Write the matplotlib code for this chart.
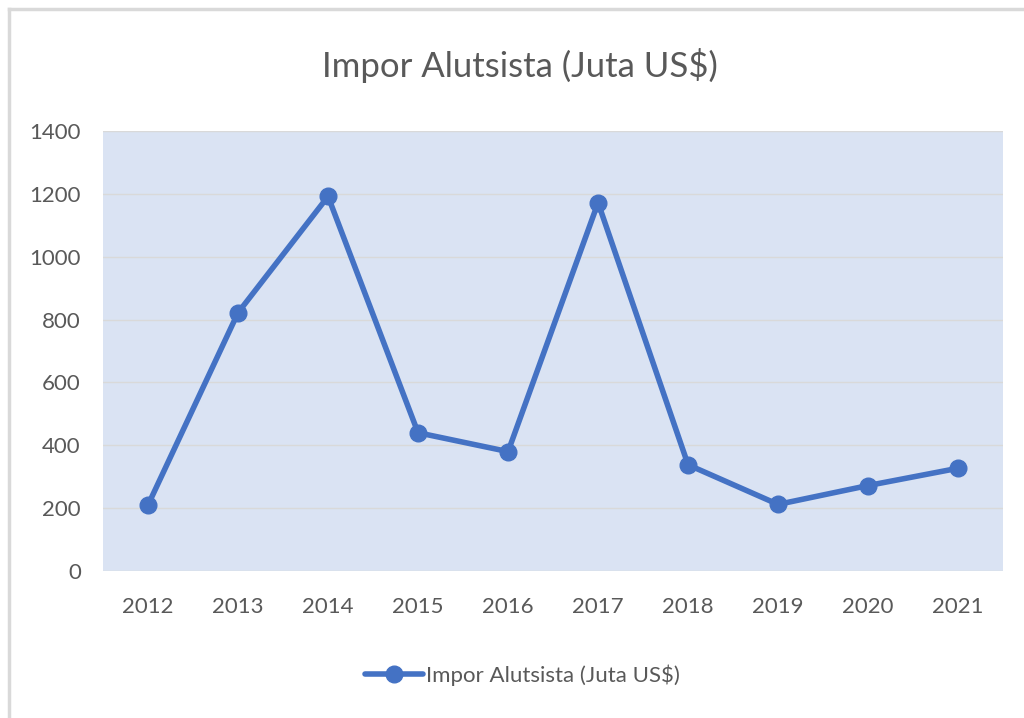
import matplotlib
matplotlib.use("Agg")
import matplotlib.pyplot as plt
from matplotlib.lines import Line2D

# data
years = ["2012", "2013", "2014", "2015", "2016", "2017", "2018", "2019", "2020", "2021"]
impor = [210, 822, 1192, 440, 380, 1172, 338, 212, 272, 327]

LINE_COLOR = "#4472C4"
TEXT_COLOR = "#595959"

plt.rcParams["font.family"] = ["Lato", "DejaVu Sans"]

fig = plt.figure(figsize=(10.24, 7.18), dpi=100)
ax = fig.add_axes([0.1006, 0.2047, 0.879, 0.6128])

x = list(range(len(years)))
ax.plot(x, impor, color=LINE_COLOR, linewidth=4, marker="o", markersize=12,
        label="Impor Alutsista (Juta US$)", solid_capstyle="round")

ax.set_facecolor("#DAE3F3")
ax.set_xlim(-0.5, len(years) - 0.5)
ax.set_ylim(0, 1400)
ax.set_yticks(range(0, 1401, 200))
ax.set_xticks(x)
ax.set_xticklabels(years)
ax.grid(axis="y", color="#D9D9D9", linewidth=1)
ax.set_axisbelow(True)
for s in ax.spines.values():
    s.set_visible(False)
ax.tick_params(length=0, labelsize=16, colors=TEXT_COLOR)
ax.tick_params(axis="x", pad=19)
ax.tick_params(axis="y", pad=16)

fig.text(0.508, 0.909, "Impor Alutsista (Juta US$)", ha="center", va="center",
         fontsize=25, color=TEXT_COLOR)

leg = fig.legend(loc="center", bbox_to_anchor=(0.51, 0.06), frameon=False,
                 fontsize=16, handlelength=2.6, handletextpad=0.15)
for t in leg.get_texts():
    t.set_color(TEXT_COLOR)

# outer chart border (only top and left edges visible in the source)
fig.lines.append(Line2D([0.009, 0.009], [0.0, 0.988], transform=fig.transFigure,
                        color="#D9D9D9", linewidth=2.5))
fig.lines.append(Line2D([0.009, 1.0], [0.988, 0.988], transform=fig.transFigure,
                        color="#D9D9D9", linewidth=2.5))

fig.savefig("out.png", dpi=100)
